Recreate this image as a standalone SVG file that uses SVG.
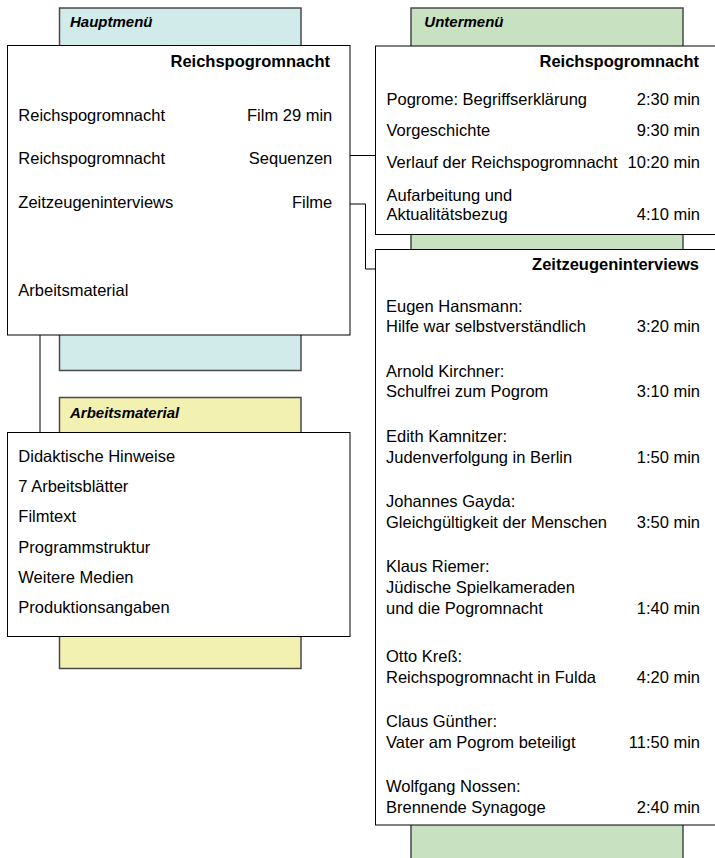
<svg xmlns="http://www.w3.org/2000/svg" width="715" height="858" viewBox="0 0 715 858">
<style>
.back{stroke:#4a4a4a;stroke-width:1.5}
.teal{fill:#d1eaea}
.green{fill:#c8e2c1}
.yellow{fill:#f3f1b1}
.box{fill:#ffffff;stroke:#000000;stroke-width:1}
.lbl{font-family:"Liberation Sans",Arial,sans-serif;font-size:15px;font-weight:bold;font-style:italic;fill:#000}
.t{font-family:"Liberation Sans",Arial,sans-serif;font-size:16.5px;fill:#000}
.b{font-weight:bold}
.r{text-anchor:end}
.conn{fill:none;stroke:#000;stroke-width:1}
</style>
<g id="connectors">
<path class="conn" d="M40,335 V432.5"/>
<path class="conn" d="M350,155.5 H376"/>
<path class="conn" d="M350,204 H365.5 V269 H376"/>
</g>
<g id="hauptmenue">
<rect class="back teal" x="59.5" y="8" width="241.5" height="362.5"/>
<text class="lbl" x="70" y="27">Hauptmenü</text>
<rect class="box" x="7.5" y="45.5" width="342.5" height="289.5"/>
<text class="t b r" x="330" y="66.5">Reichspogromnacht</text>
<text class="t" x="18.3" y="120.5">Reichspogromnacht</text>
<text class="t r" x="332.3" y="120.5">Film 29 min</text>
<text class="t" x="18.3" y="164">Reichspogromnacht</text>
<text class="t r" x="332.3" y="164">Sequenzen</text>
<text class="t" x="18.3" y="208">Zeitzeugeninterviews</text>
<text class="t r" x="332.3" y="208">Filme</text>
<text class="t" x="18.3" y="296">Arbeitsmaterial</text>
</g>
<g id="untermenue-back">
<rect class="back green" x="411" y="8" width="272" height="870"/>
<text class="lbl" x="424.3" y="27">Untermenü</text>
</g>
<g id="untermenue">
<rect class="box" x="375.5" y="46" width="345" height="188.5"/>
<text class="t b r" x="699" y="66.5">Reichspogromnacht</text>
<text class="t" x="386.5" y="104.5">Pogrome: Begriffserklärung</text>
<text class="t r" x="700" y="104.5">2:30 min</text>
<text class="t" x="386.5" y="136">Vorgeschichte</text>
<text class="t r" x="700" y="136">9:30 min</text>
<text class="t" x="386.5" y="167.5">Verlauf der Reichspogromnacht</text>
<text class="t r" x="700" y="167.5">10:20 min</text>
<text class="t" x="386.5" y="200.5">Aufarbeitung und</text>
<text class="t" x="386.5" y="219.5">Aktualitätsbezug</text>
<text class="t r" x="700" y="219.5">4:10 min</text>
</g>
<g id="zeitzeugen">
<rect class="box" x="375.5" y="249.5" width="345" height="575.5"/>
<text class="t b r" x="699" y="270">Zeitzeugeninterviews</text>
<text class="t" x="386" y="312">Eugen Hansmann:</text>
<text class="t" x="386" y="332">Hilfe war selbstverständlich</text>
<text class="t r" x="700" y="332">3:20 min</text>
<text class="t" x="386" y="377">Arnold Kirchner:</text>
<text class="t" x="386" y="397">Schulfrei zum Pogrom</text>
<text class="t r" x="700" y="397">3:10 min</text>
<text class="t" x="386" y="442">Edith Kamnitzer:</text>
<text class="t" x="386" y="462.5">Judenverfolgung in Berlin</text>
<text class="t r" x="700" y="462.5">1:50 min</text>
<text class="t" x="386" y="507">Johannes Gayda:</text>
<text class="t" x="386" y="527.5">Gleichgültigkeit der Menschen</text>
<text class="t r" x="700" y="527.5">3:50 min</text>
<text class="t" x="386" y="572">Klaus Riemer:</text>
<text class="t" x="386" y="592.5">Jüdische Spielkameraden</text>
<text class="t" x="386" y="613.5">und die Pogromnacht</text>
<text class="t r" x="700" y="613.5">1:40 min</text>
<text class="t" x="386" y="662">Otto Kreß:</text>
<text class="t" x="386" y="682.5">Reichspogromnacht in Fulda</text>
<text class="t r" x="700" y="682.5">4:20 min</text>
<text class="t" x="386" y="727">Claus Günther:</text>
<text class="t" x="386" y="748">Vater am Pogrom beteiligt</text>
<text class="t r" x="700" y="748">11:50 min</text>
<text class="t" x="386" y="792">Wolfgang Nossen:</text>
<text class="t" x="386" y="813">Brennende Synagoge</text>
<text class="t r" x="700" y="813">2:40 min</text>
</g>
<g id="arbeitsmaterial">
<rect class="back yellow" x="59.5" y="397.5" width="241.5" height="271"/>
<text class="lbl" x="70" y="418">Arbeitsmaterial</text>
<rect class="box" x="7.5" y="432.5" width="342.5" height="204"/>
<text class="t" x="18.3" y="462">Didaktische Hinweise</text>
<text class="t" x="18.3" y="492">7 Arbeitsblätter</text>
<text class="t" x="18.3" y="522">Filmtext</text>
<text class="t" x="18.3" y="552.5">Programmstruktur</text>
<text class="t" x="18.3" y="582.5">Weitere Medien</text>
<text class="t" x="18.3" y="612.5">Produktionsangaben</text>
</g>
</svg>
